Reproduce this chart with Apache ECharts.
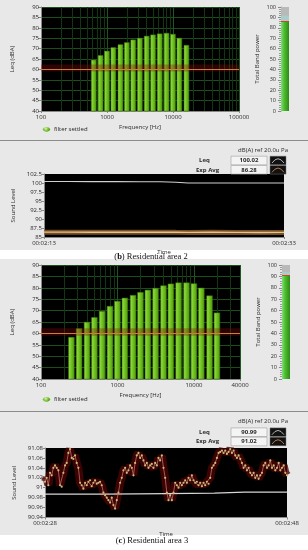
<!DOCTYPE html>
<html><head><meta charset="utf-8">
<script src="https://cdn.jsdelivr.net/npm/echarts@6/dist/echarts.min.js"></script>
<style>html,body{margin:0;padding:0;background:#fff}#c{width:308px;height:550px}</style>
</head><body><div id="c"></div>
<script>
// ---------- DATA ----------
const freqsA = [630,800,1000,1250,1600,2000,2500,3150,4000,5000,6300,8000,10000,12500,16000];
const leqA   = [64.5,66.7,68.8,70.5,71.9,72.9,74.2,75.0,76.0,76.6,77.1,77.4,76.9,75.0,71.6];
const bandPowerA = 86, bandPeakA = 92;

const timeLabelsB = ['00:02:13','00:02:33'];
const timeB  = [0,2,4,6,8,9.7,11,12,14,16,18,20];
const leqB   = [100.4,100.4,100.38,100.38,100.36,100.35,100.2,100.02,100.02,100.02,100.02,100.02];
const expB   = [86.35,86.35,86.32,86.3,86.3,86.33,86.3,86.28,86.3,86.28,86.25,86.28];
const readLeqB = '100.02', readExpB = '86.28';

const freqsC = [250,315,400,500,630,800,1000,1250,1600,2000,2500,3150,4000,5000,6300,8000,10000,12500,16000,20000];
const leqC   = [58.3,62.1,64.9,67.0,69.7,71.9,74.1,75.5,76.7,78.0,79.0,79.8,80.9,81.7,82.2,82.2,81.8,79.9,76.5,69.0];
const bandPowerC = 91, bandPeakC = 94;

const timeLabelsD = ['00:02:28','00:02:48'];
const expD = [91.012,91.02,91.005,91.03,91.025,91.04,91.045,91.04,91.035,91.005,
91.002,91.03,91.045,91.05,91.07,91.078,91.06,91.058,91.065,91.05,
91.04,91.01,91.005,90.998,91.01,91.005,91.012,91.015,91.003,91.01,
91.015,91.008,91.01,91.012,91.005,90.99,90.985,90.98,90.975,90.97,
90.98,90.965,90.958,90.975,90.99,91.01,91.02,91.035,91.04,91.03,
91.035,91.045,91.04,91.025,91.05,91.065,91.07,91.06,91.065,91.055,
91.045,91.05,91.04,91.045,91.048,91.04,91.05,91.045,91.06,91.055,
91.065,91.04,91.02,90.99,90.975,90.985,90.975,90.99,91.01,91.005,
91.0,91.01,91.005,91.01,91.015,91.01,91.02,91.015,91.025,91.015,
91.01,91.012,91.005,91.01,91.003,91.01,91.005,91.012,91.008,91.02,
91.04,91.045,91.05,91.06,91.07,91.072,91.075,91.07,91.075,91.068,
91.072,91.078,91.07,91.075,91.065,91.06,91.065,91.058,91.05,91.04,
91.045,91.035,91.04,91.03,91.025,91.03,91.02,91.025,91.018,91.025,
91.03,91.045,91.05,91.04,91.045,91.055,91.04,91.045,91.035,91.04,
91.05,91.035,91.04,91.045,91.03,91.025];
const leqTimeD = [0,5,10,14,16.5,20];
const leqD     = [90.987,90.987,90.988,90.989,90.991,90.991];
const readLeqD = '90.99', readExpD = '91.02';

// ---------- HELPERS ----------
const FONT = '"Open Sans","DejaVu Sans",sans-serif';
const SERIF = '"Liberation Serif","DejaVu Serif",serif';
const TXT = '#2a2a2a';
const chart = echarts.init(document.getElementById('c'), null, {renderer:'canvas'});

const barGrad = new echarts.graphic.LinearGradient(0,0,1,0,[
  {offset:0,color:'#9ee352'},{offset:0.45,color:'#74c622'},{offset:1,color:'#4c980e'}]);
const bandGrad = new echarts.graphic.LinearGradient(0,0,1,0,[
  {offset:0,color:'#7fe07a'},{offset:0.4,color:'#4cbc2c'},{offset:1,color:'#2f8a18'}]);

function barItem(params, api){
  const f = api.value(0), v = api.value(1);
  const k = Math.pow(10, 0.037);
  const tl = api.coord([f/k, v]);
  const br = api.coord([f*k, 40]);
  return {type:'rect', shape:{x:tl[0], y:tl[1], width:br[0]-tl[0], height:br[1]-tl[1]},
          style:{fill:barGrad, stroke:'#3a7a0a', lineWidth:0.5}};
}
function minorFreqs(maxF){
  const out = [];
  for (let d = 100; d < maxF; d *= 10)
    for (let m = 2; m <= 9; m++) if (m*d < maxF) out.push({xAxis:m*d});
  return out;
}
const fmtNum = v => String(+(+v).toFixed(2));
const fmtFreq = v => String(Math.round(v));

function freqX(idx, maxF){
  return {type:'log', logBase:10, min:100, max:maxF, gridIndex:idx,
    name:'Frequency [Hz]', nameLocation:'middle', nameGap:13,
    nameTextStyle:{fontSize:6, color:TXT, fontFamily:FONT},
    axisLine:{show:true, lineStyle:{color:'#888'}},
    axisTick:{show:true, length:2, lineStyle:{color:'#888'}},
    axisLabel:{fontSize:6, color:TXT, margin:3, formatter:fmtFreq, showMaxLabel:true, showMinLabel:true},
    splitLine:{show:true, lineStyle:{color:'#1f561f', width:1}}};
}
function leqY(idx){
  return {type:'value', min:40, max:90, interval:5, gridIndex:idx,
    name:'Leq (dBA)', nameLocation:'middle', nameGap:26,
    nameTextStyle:{fontSize:6, color:TXT, fontFamily:FONT},
    axisLine:{show:true, lineStyle:{color:'#888'}},
    axisTick:{show:true, length:3, lineStyle:{color:'#888'}},
    axisLabel:{fontSize:6, color:TXT, margin:2},
    splitLine:{show:true, lineStyle:{color:'#1d4f1d', width:1}}};
}
function bandX(idx){ return {type:'category', data:['P'], gridIndex:idx, show:false}; }
function bandY(idx, lineColor){
  return {type:'value', min:0, max:100, interval:10, gridIndex:idx, position:'left',
    name:'Total Band power', nameLocation:'middle', nameGap:21,
    nameTextStyle:{fontSize:6, color:TXT, fontFamily:FONT},
    axisLine:{show:true, lineStyle:{color:lineColor, width:1}},
    axisTick:{show:true, length:3, lineStyle:{color:'#888'}},
    minorTick:{show:true, splitNumber:5, length:2, lineStyle:{color:'#999'}},
    axisLabel:{fontSize:5.5, color:TXT, margin:5},
    splitLine:{show:false}};
}
function timeX(idx, labels, gap){
  return {type:'value', min:0, max:20, interval:20, gridIndex:idx,
    name:'Time', nameLocation:'middle', nameGap:gap,
    nameTextStyle:{fontSize:6, color:TXT, fontFamily:FONT},
    axisLine:{show:true, lineStyle:{color:'#888'}},
    axisTick:{show:true, length:2, lineStyle:{color:'#888'}},
    axisLabel:{fontSize:6, color:TXT, margin:3, showMinLabel:true, showMaxLabel:true,
      formatter: v => (v === 0 ? labels[0] : labels[1])},
    splitLine:{show:false}};
}
function levelY(idx, min, max, interval){
  return {type:'value', min:min, max:max, interval:interval, gridIndex:idx,
    name:'Sound Level', nameLocation:'middle', nameGap:28,
    nameTextStyle:{fontSize:6, color:TXT, fontFamily:FONT},
    axisLine:{show:true, lineStyle:{color:'#888'}},
    axisTick:{show:true, length:2, lineStyle:{color:'#888'}},
    axisLabel:{fontSize:6, color:TXT, margin:2, formatter:fmtNum},
    splitLine:{show:false}};
}
function gridBox(l,t,w,h,bg){
  return {left:l, top:t, width:w, height:h, show:true, backgroundColor:bg, borderWidth:0,
          containLabel:false, outerBoundsMode:'none'};
}
function bandSeries(idx, power, peak){
  return [
    {type:'bar', xAxisIndex:idx, yAxisIndex:idx, stack:'b'+idx, barWidth:'100%', data:[power],
     itemStyle:{color:bandGrad}, silent:true,
     markLine:{silent:true, symbol:'none', label:{show:false}, lineStyle:{color:'#d4451c', width:1, type:'solid'},
       data:[{yAxis:power}]}},
    {type:'bar', xAxisIndex:idx, yAxisIndex:idx, stack:'b'+idx, barWidth:'100%', data:[peak-power],
     itemStyle:{color:'#a9cccc'}, silent:true},
    {type:'bar', xAxisIndex:idx, yAxisIndex:idx, stack:'b'+idx, barWidth:'100%', data:[100-peak],
     itemStyle:{color:'#b9b9b9'}, silent:true}
  ];
}
function specSeries(idx, freqs, vals, maxF){
  return [
    {type:'line', xAxisIndex:idx, yAxisIndex:idx, data:[], z:1, silent:true,
     markLine:{z:1, silent:true, symbol:'none', label:{show:false}, animation:false,
       lineStyle:{color:'#123612', width:1, type:'solid'}, data:minorFreqs(maxF)}},
    {type:'custom', xAxisIndex:idx, yAxisIndex:idx, z:3, renderItem:barItem,
     encode:{x:0, y:1}, data:freqs.map((f,i)=>[f, vals[i]])},
    {type:'line', xAxisIndex:idx, yAxisIndex:idx, data:[], z:5, silent:true,
     markArea:{z:5, silent:true, itemStyle:{color:'rgba(140,10,10,0.33)'}, data:[[{yAxis:59},{yAxis:62.3}]]},
     markLine:{z:6, silent:true, symbol:'none', label:{show:false}, lineStyle:{color:'#c8803a', width:1, type:'solid'},
       data:[{yAxis:60}]}}
  ];
}

// ---------- LAYOUT GRAPHICS ----------
function txt(x,y,s,o){ return Object.assign({type:'text', x:x, y:y, z:50,
  style:Object.assign({text:s, fill:TXT, font:'6px '+FONT, verticalAlign:'middle', align:'left'}, o||{})}); }
function readout(yTop, leqVal, expVal){
  const els = [];
  els.push(txt(288, yTop, 'dB(A) ref 20.0u Pa', {align:'right'}));
  const rows = [[yTop+10.5, 'Leq', leqVal, '#dcdcdc'], [yTop+19.8, 'Exp Avg', expVal, '#d9905a']];
  rows.forEach(r => {
    els.push(txt(r[1]==='Leq'?199:196, r[0], r[1], {font:'bold 6px '+FONT}));
    els.push({type:'rect', z:49, shape:{x:231, y:r[0]-4.3, width:36, height:8.6},
      style:{fill:'#f4f4f4', stroke:'#a0a0a0', lineWidth:0.6}});
    els.push(txt(249, r[0], r[2], {align:'center', font:'bold 6px '+FONT}));
    els.push({type:'rect', z:49, shape:{x:270, y:r[0]-4.3, width:16, height:8.6},
      style:{fill:'#111', stroke:'#777', lineWidth:0.5}});
    els.push({type:'bezierCurve', z:51, shape:{x1:272, y1:r[0]+2.5, x2:284, y2:r[0]+2.5, cpx1:278, cpy1:r[0]-6},
      style:{stroke:r[3], lineWidth:0.8, fill:null}});
  });
  return els;
}
function led(y){
  return [{type:'ellipse', z:50, shape:{cx:46.5, cy:y, rx:3.6, ry:2.4},
    style:{fill:new echarts.graphic.RadialGradient(0.4,0.35,0.7,[{offset:0,color:'#d8f5a0'},{offset:1,color:'#5caa18'}])}},
    txt(54, y+0.2, 'filter settled', {font:'6px '+FONT, fill:'#222'})];
}
const graphics = [
  {type:'rect', z:-10, shape:{x:0, y:0, width:308, height:250}, style:{fill:'#e8e8e8'}},
  {type:'line', z:-9, shape:{x1:0, y1:140.5, x2:308, y2:140.5}, style:{stroke:'#8c8c8c', lineWidth:1}},
  {type:'rect', z:-10, shape:{x:0, y:259, width:308, height:276}, style:{fill:'#e8e8e8'}},
  {type:'line', z:-9, shape:{x1:0, y1:411.5, x2:308, y2:411.5}, style:{stroke:'#8c8c8c', lineWidth:1}},
  {type:'text', z:50, x:151, y:256.5, style:{text:'{n|(}{b|b}{n|) Residential area 2}', align:'center', verticalAlign:'middle',
    rich:{n:{font:'8.5px '+SERIF, fill:'#111'}, b:{font:'bold 8.5px '+SERIF, fill:'#111'}}}},
  {type:'text', z:50, x:152, y:540.5, style:{text:'{n|(}{b|c}{n|) Residential area 3}', align:'center', verticalAlign:'middle',
    rich:{n:{font:'8.5px '+SERIF, fill:'#111'}, b:{font:'bold 8.5px '+SERIF, fill:'#111'}}}}
].concat(led(129.3), led(399.3), readout(150, readLeqB, readExpB), readout(421.7, readLeqD, readExpD));

// ---------- OPTION ----------
const tD = expD.map((v,i)=> i*20/(expD.length-1));
const option = {
  animation:false,
  backgroundColor:'#ffffff',
  textStyle:{fontFamily:FONT},
  graphic:{elements:graphics},
  grid:[
    gridBox(41, 7, 198, 104, '#000'),
    gridBox(281, 7, 8, 104, '#b9b9b9'),
    gridBox(44, 174, 240, 63, '#000'),
    gridBox(41, 265, 199, 114, '#000'),
    gridBox(282, 265, 8, 114, '#b9b9b9'),
    gridBox(45, 448, 242, 69.5, '#000')
  ],
  xAxis:[ freqX(0, 100000), bandX(1), timeX(2, timeLabelsB, 12), freqX(3, 40000), bandX(4), timeX(5, timeLabelsD, 14) ],
  yAxis:[ leqY(0), bandY(1, '#999'), levelY(2, 85, 102.5, 2.5), leqY(3), bandY(4, '#6fe8e8'), levelY(5, 90.94, 91.08, 0.02) ],
  series:[].concat(
    specSeries(0, freqsA, leqA, 100000),
    bandSeries(1, bandPowerA, bandPeakA),
    [
      {type:'line', xAxisIndex:2, yAxisIndex:2, data:timeB.map((t,i)=>[t, expB[i]]), symbol:'none', z:2,
       lineStyle:{color:'rgba(140,90,40,0.85)', width:5}},
      {type:'line', xAxisIndex:2, yAxisIndex:2, data:timeB.map((t,i)=>[t, expB[i]]), symbol:'none', z:3,
       lineStyle:{color:'#e2c494', width:1.4}},
      {type:'line', xAxisIndex:2, yAxisIndex:2, data:timeB.map((t,i)=>[t, leqB[i]]), symbol:'none', z:3,
       lineStyle:{color:'#d0d0d0', width:1.1}}
    ],
    specSeries(3, freqsC, leqC, 40000),
    bandSeries(4, bandPowerC, bandPeakC),
    [
      {type:'line', xAxisIndex:5, yAxisIndex:5, data:tD.map((t,i)=>[t, expD[i]]), symbol:'none', z:2,
       lineStyle:{color:'rgba(75,4,4,0.8)', width:8}},
      {type:'line', xAxisIndex:5, yAxisIndex:5, data:leqTimeD.map((t,i)=>[t, leqD[i]]), symbol:'none', z:3,
       lineStyle:{color:'#d6d6d6', width:1.2}},
      {type:'line', xAxisIndex:5, yAxisIndex:5, data:tD.map((t,i)=>[t, expD[i]]), z:4,
       symbol:'circle', symbolSize:2.2, showSymbol:true, showAllSymbol:true,
       itemStyle:{color:'#c9bb7a', borderWidth:0},
       lineStyle:{color:'#c0706a', width:0.8}}
    ]
  )
};
chart.setOption(option);
</script>
</body></html>
